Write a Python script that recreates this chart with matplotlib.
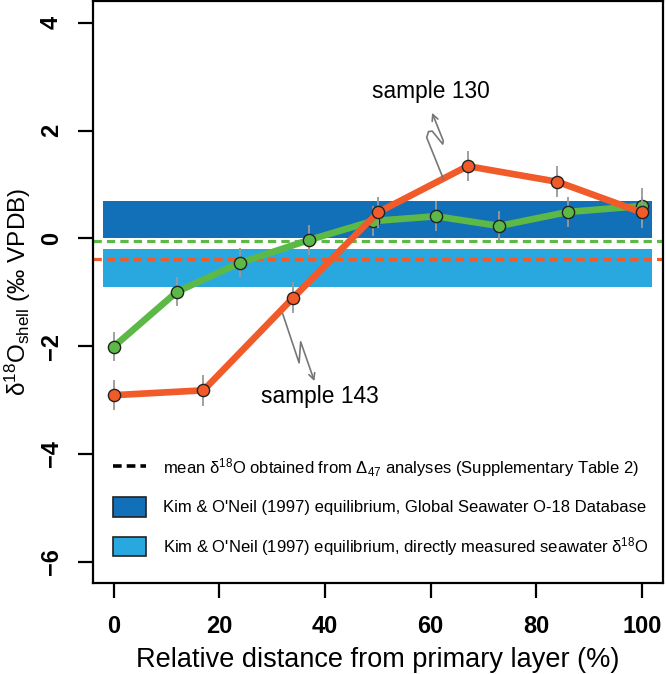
import numpy as np
import matplotlib
matplotlib.use('Agg')
import matplotlib.pyplot as plt
from matplotlib.patches import Patch, FancyArrowPatch
from matplotlib.lines import Line2D
from matplotlib.path import Path

plt.rcParams['font.family'] = ['Liberation Sans', 'DejaVu Sans']
plt.rcParams['mathtext.fontset'] = 'custom'
plt.rcParams['mathtext.rm'] = 'Liberation Sans'
plt.rcParams['mathtext.it'] = 'Liberation Sans:italic'
plt.rcParams['mathtext.bf'] = 'Liberation Sans:bold'

# sample 143 (green) and sample 130 (orange)
x_green = [0, 12, 24, 37, 49, 61, 73, 86, 100]
y_green = [-2.01, -0.99, -0.45, -0.03, 0.32, 0.41, 0.23, 0.49, 0.60]
e_green = [0.27, 0.27, 0.27, 0.27, 0.28, 0.28, 0.28, 0.28, 0.33]

x_orange = [0, 17, 34, 50, 67, 84, 100]
y_orange = [-2.91, -2.82, -1.10, 0.48, 1.34, 1.05, 0.48]
e_orange = [0.28, 0.29, 0.29, 0.28, 0.28, 0.29, 0.28]

# mean d18O from D47 analyses
mean_green = -0.05
mean_orange = -0.39

# Kim & O'Neil equilibrium ranges
band_global = (0.0, 0.70)
band_measured = (-0.90, -0.20)
band_x = (-2, 102)

green = '#5cb947'
orange = '#f15a29'
blue_dark = '#1170b8'
blue_light = '#29a8e0'

fig = plt.figure(figsize=(6.66, 6.74), dpi=100)
ax = fig.add_axes([0.139, 0.1346, 0.8565, 0.8636])

ax.fill_between(band_x, band_global[0], band_global[1], color=blue_dark, lw=0, zorder=1)
ax.fill_between(band_x, band_measured[0], band_measured[1], color=blue_light, lw=0, zorder=1)

ax.axhline(mean_green, color=green, lw=2.3, dashes=(2.6, 1.6), zorder=2)
ax.axhline(mean_orange, color=orange, lw=2.3, dashes=(2.6, 1.6), zorder=2)

for xs, ys, es, c, z in [(x_green, y_green, e_green, green, 3),
                         (x_orange, y_orange, e_orange, orange, 6)]:
    ax.plot(xs, ys, color=c, lw=4.8, solid_capstyle='butt', zorder=z)
    ax.errorbar(xs, ys, yerr=es, fmt='none', ecolor='#999999', elinewidth=1.3,
                capsize=0, zorder=z + 1)
    ax.plot(xs, ys, 'o', ms=8.8, mfc=c, mec='#222222', mew=1.0, zorder=z + 2)

# wavy arrows pointing to the labels
arrow130 = [(62.47, 1.09), (59.26, 1.87), (59.6, 1.98), (60.3, 1.99),
            (62.29, 1.75), (62.4, 1.81), (60.28, 2.33)]
arrow143 = [(32.0, -1.40), (35.1, -2.31), (35.4, -1.92), (38.0, -2.65)]
for pts in [arrow130, arrow143]:
    arr = FancyArrowPatch(path=Path(pts), arrowstyle='->', mutation_scale=11,
                          color='#777777', lw=1.2, zorder=9)
    ax.add_patch(arr)

ax.text(60.1, 2.73, 'sample 130', fontsize=16.4, ha='center', va='center', zorder=10)
ax.text(39.0, -2.93, 'sample 143', fontsize=16.4, ha='center', va='center', zorder=10)

ax.set_xlim(-4, 104)
ax.set_ylim(-6.4, 4.4)
ax.set_xticks([0, 20, 40, 60, 80, 100])
ax.set_yticks([-6, -4, -2, 0, 2, 4])
ax.tick_params(length=11, width=1.6, labelsize=17, pad=12)
ax.tick_params(axis='y', pad=10.5)
for lab in ax.get_xticklabels() + ax.get_yticklabels():
    lab.set_fontweight('bold')
for lab in ax.get_yticklabels():
    lab.set_rotation(90)
    lab.set_va('center')
for sp in ax.spines.values():
    sp.set_linewidth(1.6)

ax.set_xlabel('Relative distance from primary layer (%)', fontsize=19.5, va='center')
ax.xaxis.set_label_coords(0.5, -0.1317)
ax.set_ylabel(r'δ$^{18}$O$_{\mathrm{shell}}$ (‰ VPDB)', fontsize=17.5, va='center')
ax.yaxis.set_label_coords(-0.131, 0.5)

handles = [Line2D([], [], color='black', lw=2.6, dashes=(2.4, 1.4)),
           Patch(facecolor=blue_dark, edgecolor='#222222', lw=1.2),
           Patch(facecolor=blue_light, edgecolor='#222222', lw=1.2)]
labels = [r'mean δ$^{18}$O obtained from Δ$_{47}$ analyses (Supplementary Table 2)',
          "Kim & O'Neil (1997) equilibrium, Global Seawater O-18 Database",
          "Kim & O'Neil (1997) equilibrium, directly measured seawater δ$^{18}$O"]
ax.legend(handles, labels, loc='upper left', bbox_to_anchor=(0.0356, 0.2186),
          frameon=False, fontsize=12, borderpad=0, borderaxespad=0,
          handlelength=2.0, handleheight=1.4, handletextpad=1.0, labelspacing=1.1)

fig.savefig('out.png', dpi=100)
